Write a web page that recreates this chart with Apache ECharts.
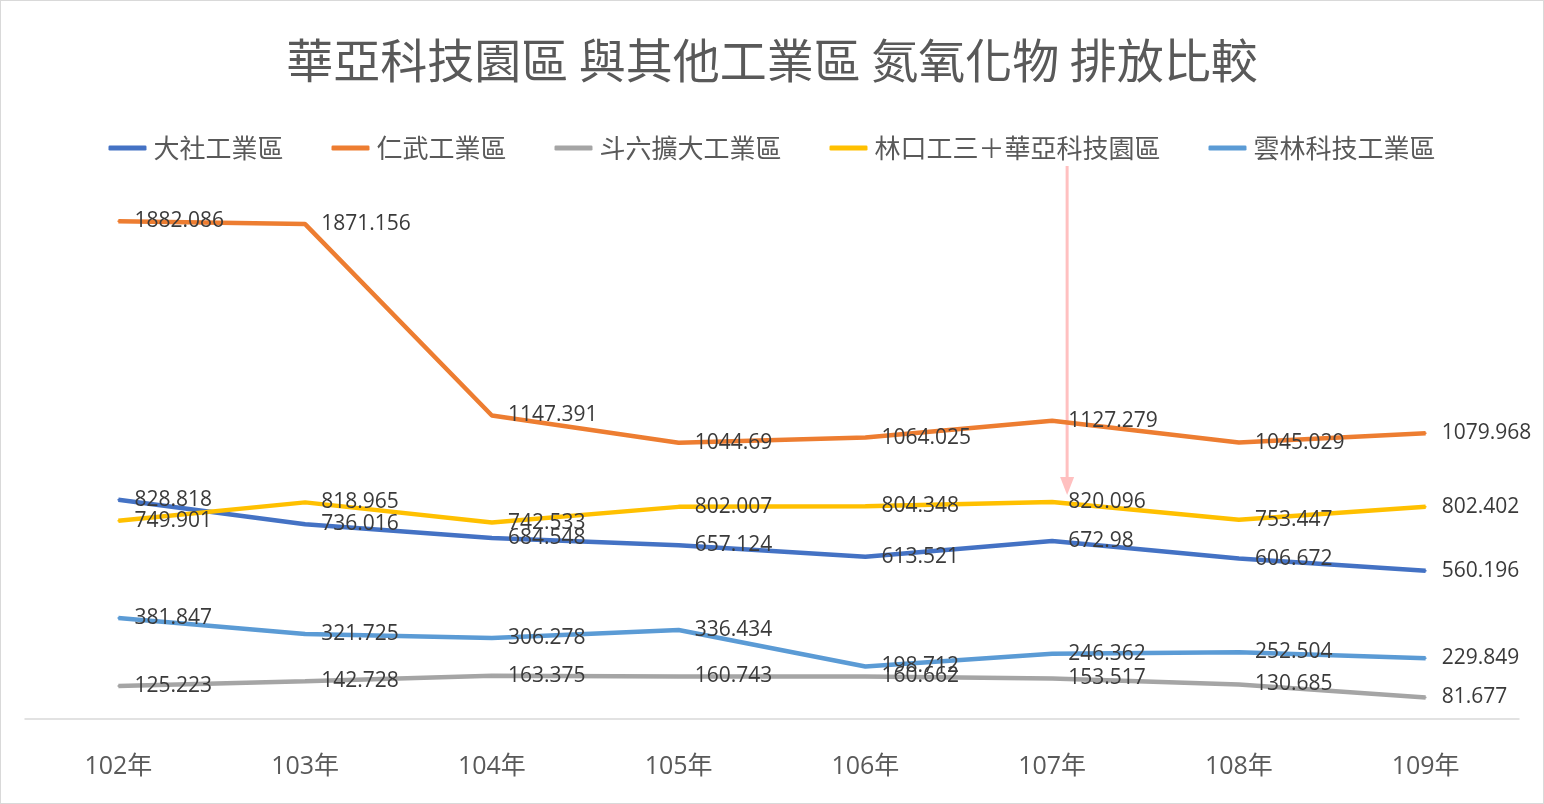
<!DOCTYPE html>
<html><head><meta charset="utf-8">
<script src="https://cdn.jsdelivr.net/npm/echarts@6/dist/echarts.min.js"></script>
<style>html,body{margin:0;padding:0;background:#fff}#c{width:1542px;height:802px;border:1px solid #d9d9d9}</style>
</head><body><div id="c"></div>
<script>
const categories = ['102年','103年','104年','105年','106年','107年','108年','109年'];
const seriesNames = ['大社工業區','仁武工業區','斗六擴大工業區','林口工三＋華亞科技園區','雲林科技工業區'];
const dashe = [828.818, 736.016, 684.548, 657.124, 613.521, 672.98, 606.672, 560.196];
const renwu = [1882.086, 1871.156, 1147.391, 1044.69, 1064.025, 1127.279, 1045.029, 1079.968];
const douliu = [125.223, 142.728, 163.375, 160.743, 160.662, 153.517, 130.685, 81.677];
const linkou = [749.901, 818.965, 742.533, 802.007, 804.348, 820.096, 753.447, 802.402];
const yunlin = [381.847, 321.725, 306.278, 336.434, 198.712, 246.362, 252.504, 229.849];
const colors = ['#4472C4','#ED7D31','#A5A5A5','#FFC000','#5B9BD5'];
const allData = [dashe, renwu, douliu, linkou, yunlin];

const cjk = '"Noto Sans CJK TC", "Noto Sans CJK SC", sans-serif';
const chart = echarts.init(document.getElementById('c'));
chart.setOption({
  animation: false,
  color: colors,
  title: {
    text: '華亞科技園區 與其他工業區 氮氧化物 排放比較',
    left: 'center', top: 31,
    textStyle: {fontFamily: cjk, fontSize: 47, fontWeight: 'normal', color: '#595959'}
  },
  legend: {
    top: 129, left: 'center',
    icon: 'roundRect', itemWidth: 38, itemHeight: 5, itemGap: 48,
    textStyle: {fontFamily: cjk, fontSize: 26, color: '#595959', padding: [0,0,0,2]},
    data: seriesNames
  },
  grid: {left: 24, right: 24, top: 189, bottom: 84, containLabel: false},
  xAxis: {
    type: 'category', data: categories, boundaryGap: true,
    axisLine: {lineStyle: {color: '#d9d9d9', width: 1.5}},
    axisTick: {show: false},
    axisLabel: {margin: 35, fontFamily: '"Open Sans", "Noto Sans CJK TC", sans-serif', fontSize: 25, color: '#595959'}
  },
  yAxis: {type: 'value', min: 0, max: 2000, show: false, splitLine: {show: false}},
  series: allData.map((d, i) => ({
    name: seriesNames[i], type: 'line', data: d,
    symbol: 'circle', symbolSize: 2, showSymbol: true,
    lineStyle: {width: 4.5, color: colors[i]},
    itemStyle: {color: colors[i]},
    label: {show: true, position: 'right', distance: 15,
      fontFamily: '"Open Sans", sans-serif', fontSize: 21, color: '#3a3a3a'}
  }))
});
const ax = chart.convertToPixel({xAxisIndex: 0}, '107年') + 15;
const yTop = 165, yTip = 494;
chart.setOption({
  graphic: [
    {type: 'line', shape: {x1: ax, y1: yTop, x2: ax, y2: yTip - 14}, style: {stroke: '#FFC0C0', lineWidth: 3}},
    {type: 'polygon', shape: {points: [[ax - 7, yTip - 18], [ax + 7, yTip - 18], [ax, yTip]]}, style: {fill: '#FFC0C0'}}
  ]
});
</script></body></html>
